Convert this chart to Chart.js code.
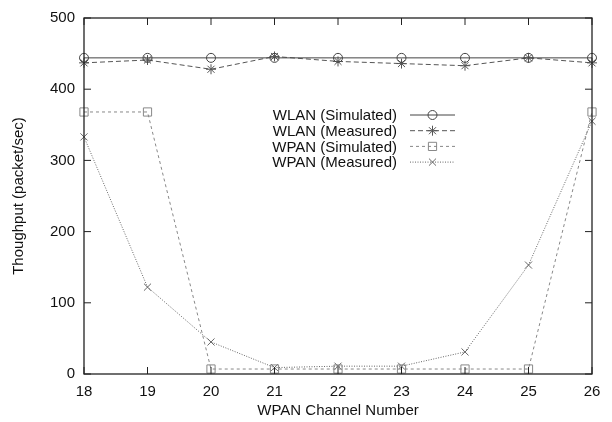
<!DOCTYPE html>
<html>
<head>
<meta charset="utf-8">
<script src="https://cdn.jsdelivr.net/npm/chart.js@4.4.1/dist/chart.umd.min.js"></script>
<style>
    html, body { margin: 0; padding: 0; background: #ffffff; }
    #wrap { width: 612px; height: 422px; }
</style>
</head>
<body>
<div id="wrap"><canvas id="chart" width="612" height="422"></canvas></div>
<script>
const channels = [18, 19, 20, 21, 22, 23, 24, 25, 26];
const wlanSimulated = [444, 444, 444, 444, 444, 444, 444, 444, 444];
const wlanMeasured = [437, 441, 428, 446, 439, 436, 433, 444, 437];
const wpanSimulated = [368, 368, 7, 7, 7, 7, 7, 7, 368];
const wpanMeasured = [333, 122, 45, 9, 11, 11, 31, 153, 355];
const yTicks = [0, 100, 200, 300, 400, 500];

const FONT = '"Liberation Sans", Arial, Helvetica, sans-serif';

function toPoints(values) {
    return values.map((v, i) => ({ x: channels[i], y: v }));
}

function series(label, values, color, dash, pointStyle, radius) {
    return {
        label,
        data: toPoints(values),
        borderColor: color,
        backgroundColor: 'transparent',
        borderWidth: 1,
        borderDash: dash,
        pointStyle,
        pointRadius: radius,
        pointBorderColor: color,
        pointBorderWidth: 1,
        pointBackgroundColor: 'transparent',
        tension: 0,
        clip: false
    };
}

// frame with inward ticks on all four sides, gnuplot style
const framePlugin = {
    id: 'frame',
    afterDraw(chart) {
        const { ctx, chartArea: a, scales } = chart;
        ctx.save();
        ctx.strokeStyle = '#222';
        ctx.lineWidth = 1.3;
        ctx.strokeRect(a.left, a.top, a.right - a.left, a.bottom - a.top);
        ctx.lineWidth = 1;
        const len = 7;
        ctx.beginPath();
        channels.forEach((c) => {
            const x = scales.x.getPixelForValue(c);
            ctx.moveTo(x, a.bottom); ctx.lineTo(x, a.bottom - len);
            ctx.moveTo(x, a.top); ctx.lineTo(x, a.top + len);
        });
        yTicks.forEach((t) => {
            const y = scales.y.getPixelForValue(t);
            ctx.moveTo(a.left, y); ctx.lineTo(a.left + len, y);
            ctx.moveTo(a.right, y); ctx.lineTo(a.right - len, y);
        });
        ctx.stroke();
        ctx.restore();
    }
};

// key: text right-aligned, sample line with marker to the right
const keyPlugin = {
    id: 'key',
    afterDraw(chart) {
        const { ctx } = chart;
        const textRight = 397;
        const lineStart = 410;
        const lineEnd = 455;
        const top = 115;
        const step = 15.7;
        ctx.save();
        ctx.font = '15px ' + FONT;
        ctx.textAlign = 'right';
        ctx.textBaseline = 'middle';
        chart.data.datasets.forEach((ds, i) => {
            const y = top + i * step;
            ctx.fillStyle = '#111';
            ctx.fillText(ds.label, textRight, y + 1);
            ctx.strokeStyle = ds.borderColor;
            ctx.lineWidth = 1;
            ctx.setLineDash(ds.borderDash);
            ctx.beginPath();
            ctx.moveTo(lineStart, y);
            ctx.lineTo(lineEnd, y);
            ctx.stroke();
            ctx.setLineDash([]);
            ctx.fillStyle = 'rgba(0,0,0,0)';
            ctx.strokeStyle = ds.pointBorderColor;
            Chart.helpers.drawPoint(ctx, {
                pointStyle: ds.pointStyle,
                radius: ds.pointRadius,
                rotation: 0,
                borderWidth: 1
            }, (lineStart + lineEnd) / 2, y);
        });
        ctx.restore();
    }
};

const chart = new Chart(document.getElementById('chart').getContext('2d'), {
    type: 'line',
    data: {
        datasets: [
            series('WLAN (Simulated)', wlanSimulated, '#444', [], 'circle', 4.5),
            series('WLAN (Measured)', wlanMeasured, '#555', [5, 3], 'star', 5),
            series('WPAN (Simulated)', wpanSimulated, '#888', [3, 3], 'rect', 5.8),
            series('WPAN (Measured)', wpanMeasured, '#666', [1, 1.5], 'crossRot', 5)
        ]
    },
    options: {
        responsive: false,
        animation: false,
        devicePixelRatio: 1,
        layout: { padding: { left: 6, top: 14, right: 20, bottom: 0 } },
        plugins: {
            legend: { display: false },
            tooltip: { enabled: false }
        },
        scales: {
            x: {
                type: 'linear',
                min: 18,
                max: 26,
                grid: { display: false, drawTicks: false },
                border: { display: false },
                ticks: {
                    stepSize: 1,
                    padding: 9,
                    color: '#111',
                    font: { family: FONT, size: 15 }
                },
                title: {
                    display: true,
                    text: 'WPAN Channel Number',
                    color: '#111',
                    font: { family: FONT, size: 15 },
                    padding: { top: 2, bottom: 2 }
                },
                afterFit: (scale) => { scale.height = 48; }
            },
            y: {
                min: 0,
                max: 500,
                grid: { display: false, drawTicks: false },
                border: { display: false },
                ticks: {
                    stepSize: 100,
                    padding: 9,
                    color: '#111',
                    font: { family: FONT, size: 15 }
                },
                title: {
                    display: true,
                    text: 'Thoughput (packet/sec)',
                    color: '#111',
                    font: { family: FONT, size: 15 },
                    padding: { top: 4, bottom: 2 }
                },
                afterFit: (scale) => { scale.width = 78; }
            }
        }
    },
    plugins: [framePlugin, keyPlugin]
});
</script>
</body>
</html>
